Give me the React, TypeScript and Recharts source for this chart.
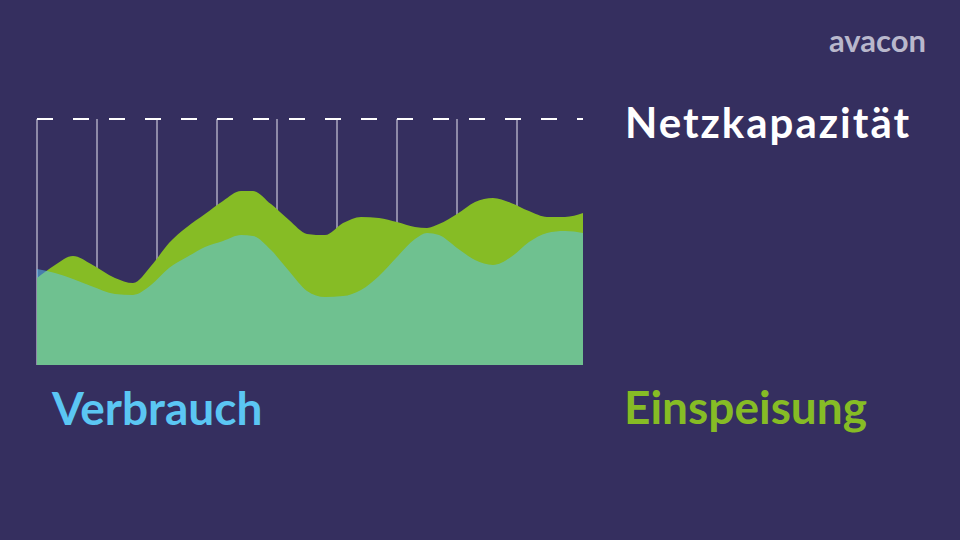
import { AreaChart, Area, XAxis, YAxis, CartesianGrid, ReferenceLine } from 'recharts'

// time axis (arbitrary units, vertical grid every 10)
const times = [0, 3, 6, 9, 13, 16, 19, 22, 25, 28, 31, 34, 36, 39, 42, 45, 48, 51, 54, 57, 60, 63, 65, 67, 70, 73, 76, 79, 82, 85, 88, 91]
const einspeisung = [35.4, 40.7, 44.3, 41.1, 35.4, 33.3, 40.2, 49.6, 56.1, 61.4, 66.7, 70.7, 70.7, 65.4, 58.9, 53.3, 52.8, 57.7, 60.2, 59.8, 58.1, 56.1, 55.7, 57.3, 61.4, 66.3, 67.9, 65.9, 62.6, 60.2, 60.2, 61.8]
const verbrauch = [39.0, 37.4, 35.0, 32.1, 28.9, 28.5, 32.5, 39.4, 43.9, 48.0, 50.4, 52.8, 52.4, 46.7, 38.2, 30.1, 27.6, 28.0, 30.5, 36.2, 43.9, 51.2, 53.7, 52.8, 47.6, 42.7, 40.7, 43.9, 50.0, 53.7, 54.5, 53.7]
const gridTicks = [0, 10, 20, 30, 40, 50, 60, 70, 80]
const netzkapazitaet = 100

const data = times.map((t, i) => ({ t, einspeisung: einspeisung[i], verbrauch: verbrauch[i] }))

const BG = '#352f5f'
const GREEN = '#86bc25'
const BLUE = '#5bc6f3'

const label = (color: string, size: number): React.CSSProperties => ({
  position: 'absolute',
  fontFamily: 'Lato, "Open Sans", sans-serif',
  fontWeight: 700,
  fontSize: size,
  color,
  lineHeight: 1,
  whiteSpace: 'nowrap',
})

export default function App() {
  return (
    <div style={{ position: 'fixed', left: 0, top: 0, width: 960, height: 540, background: BG, overflow: 'hidden' }}>
      <AreaChart width={960} height={540} data={data} margin={{ top: 119, right: 377, bottom: 175, left: 37 }}>
        <CartesianGrid horizontal={false} stroke="#e8e6f2" strokeWidth={1} verticalValues={gridTicks} />
        <XAxis dataKey="t" type="number" domain={[0, 91]} ticks={gridTicks} hide />
        <YAxis domain={[0, 100]} hide />
        <Area
          type="monotone"
          dataKey="einspeisung"
          stroke="none"
          fill={GREEN}
          fillOpacity={1}
          isAnimationActive={false}
        />
        <Area
          type="monotone"
          dataKey="verbrauch"
          stroke="none"
          fill={BLUE}
          fillOpacity={0.52}
          isAnimationActive={false}
        />
        <ReferenceLine y={netzkapazitaet} stroke="#ffffff" strokeWidth={2} strokeDasharray="16 20" />
      </AreaChart>
      <div style={{ ...label('#b9b8cc', 31), left: 829, top: 25 }}>avacon</div>
      <div style={{ ...label('#ffffff', 42), left: 625, top: 101, letterSpacing: 2 }}>Netzkapazität</div>
      <div style={{ ...label(BLUE, 46), left: 52, top: 385 }}>Verbrauch</div>
      <div style={{ ...label(GREEN, 46), left: 624, top: 384 }}>Einspeisung</div>
    </div>
  )
}
